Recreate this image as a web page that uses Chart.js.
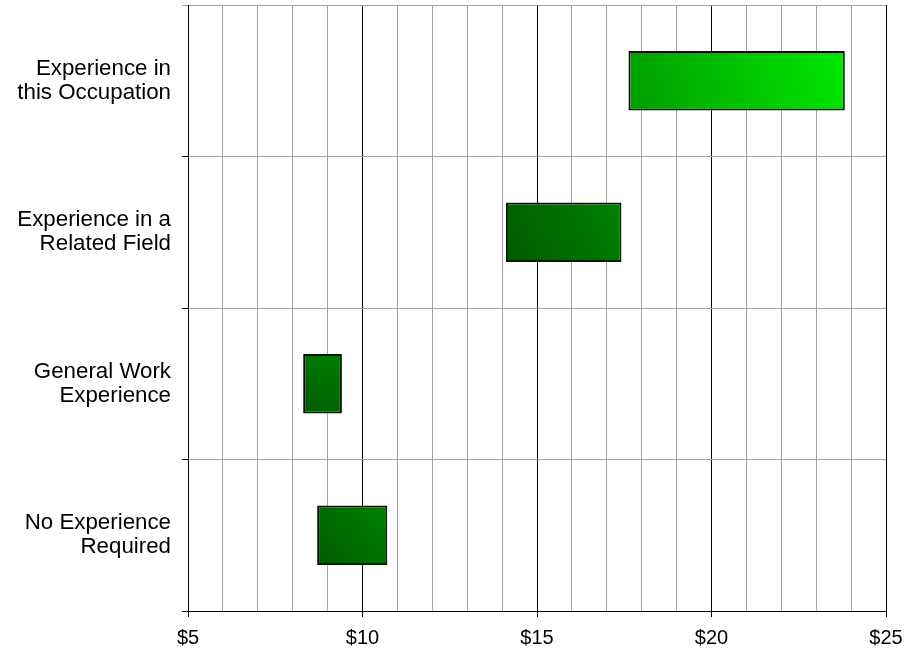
<!DOCTYPE html>
<html>
<head>
<meta charset="utf-8">
<title>Hourly wage by experience</title>
<script src="https://cdn.jsdelivr.net/npm/chart.js@4/dist/chart.umd.min.js"></script>
<style>
  html, body { margin: 0; padding: 0; background: #ffffff; }
  #wrap { width: 923px; height: 653px; position: relative; }
</style>
</head>
<body>
<div id="wrap"><canvas id="chart"></canvas></div>
<script>
// Experience levels (one row each, top to bottom)
const categories = [
  ['Experience in', 'this Occupation'],
  ['Experience in a', 'Related Field'],
  ['General Work', 'Experience'],
  ['No Experience', 'Required']
];

// Hourly wage range per row, in dollars
const wageLow  = [17.62, 14.11, 8.30, 8.70];
const wageHigh = [23.82, 17.42, 9.41, 10.71];

// Axis range and labelled ticks
const axisMin = 5;
const axisMax = 25;
const tickLabels = ['$5', '$10', '$15', '$20', '$25'];

const FONT = "'Liberation Sans', Arial, Helvetica, sans-serif";
const GRID_GRAY = '#a3a3a3';

const ranges = wageLow.map((lo, i) => [lo, wageHigh[i]]);

// Diagonal gradient across each bar, darker at the lower left
function barFill(ctx) {
  const chart = ctx.chart;
  const bright = ctx.dataIndex === 0;
  const c0 = bright ? '#009c00' : '#005a00';
  const c1 = bright ? '#00e800' : '#008200';
  const sx = chart.scales.x, sy = chart.scales.y;
  if (!chart.chartArea || !sx || !sy || !ctx.raw) return c1;
  const x0 = sx.getPixelForValue(ctx.raw[0]);
  const x1 = sx.getPixelForValue(ctx.raw[1]);
  const yc = sy.getPixelForValue(ctx.dataIndex);
  if (!isFinite(x0) || !isFinite(x1) || !isFinite(yc)) return c1;
  const g = chart.ctx.createLinearGradient(x0, yc + 30, x1, yc - 30);
  g.addColorStop(0, c0);
  g.addColorStop(1, c1);
  return g;
}

new Chart(document.getElementById('chart'), {
  type: 'bar',
  data: {
    labels: categories,
    datasets: [{
      data: ranges,
      backgroundColor: barFill,
      borderColor: '#001a00',
      borderWidth: 2,
      borderSkipped: false,
      categoryPercentage: 1,
      barPercentage: 0.393
    }]
  },
  options: {
    indexAxis: 'y',
    responsive: true,
    maintainAspectRatio: false,
    animation: false,
    layout: { padding: { top: 5, right: 37, left: 0, bottom: 0 } },
    plugins: {
      legend: { display: false },
      tooltip: { enabled: false }
    },
    scales: {
      x: {
        type: 'linear',
        min: axisMin,
        max: axisMax,
        afterFit(scale) { scale.height = 42; },
        grid: {
          color: (c) => (c.tick && c.tick.value % 5 === 0) ? '#000000' : GRID_GRAY,
          tickColor: (c) => (c.tick && c.tick.value % 5 === 0) ? '#000000' : 'rgba(0,0,0,0)',
          lineWidth: 1,
          tickLength: 6
        },
        border: { color: '#000000', width: 1 },
        ticks: {
          stepSize: 1,
          autoSkip: false,
          maxRotation: 0,
          padding: 9,
          color: '#000000',
          font: { family: FONT, size: 20 },
          callback: (v) => (v % 5 === 0) ? tickLabels[(v - axisMin) / 5] : ''
        }
      },
      y: {
        type: 'category',
        afterFit(scale) {
          scale.width = 188;
          scale.paddingTop = 0;
          scale.paddingBottom = 0;
        },
        grid: {
          offset: true,
          color: (c) => c.type === 'tick' ? GRID_GRAY : '#000000',
          tickColor: (c) => (c.type === 'tick' && c.index === 0) ? GRID_GRAY : '#000000',
          lineWidth: 1,
          tickLength: 6
        },
        border: { color: '#000000', width: 1 },
        ticks: {
          padding: 11,
          color: '#000000',
          font: { family: FONT, size: 22.3, lineHeight: 1.07 }
        }
      }
    }
  }
});
</script>
</body>
</html>
